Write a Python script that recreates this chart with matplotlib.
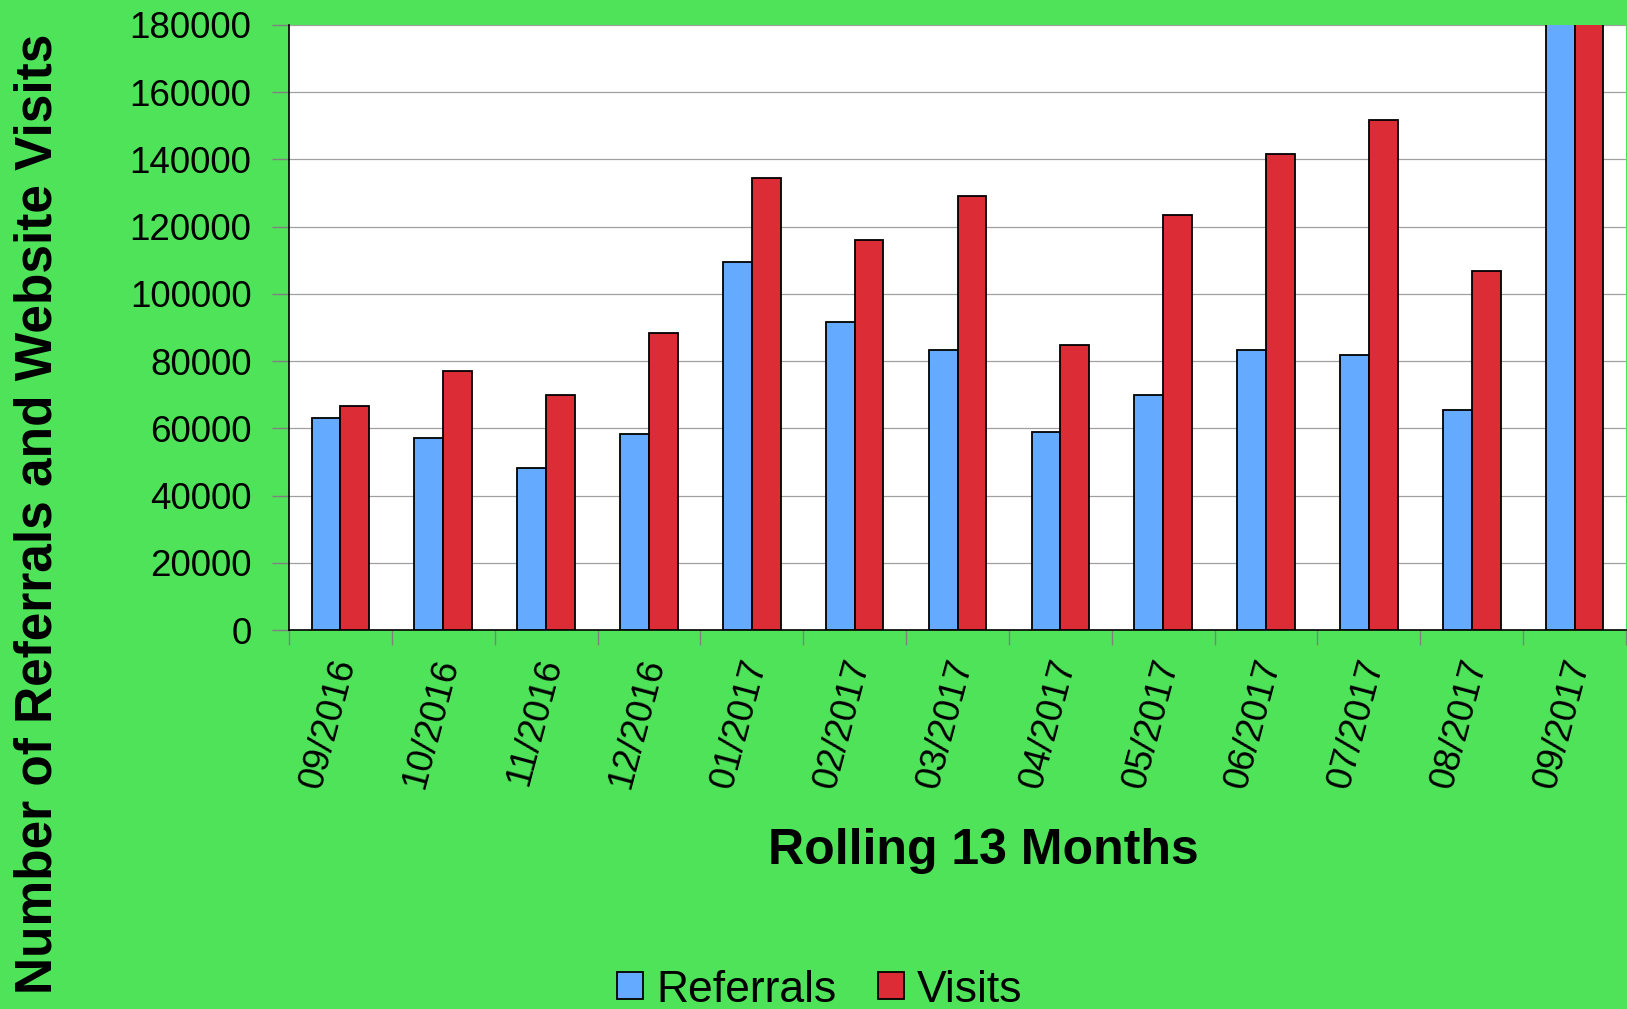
import matplotlib
matplotlib.use("Agg")
import matplotlib.pyplot as plt
import numpy as np

plt.rcParams['font.family'] = ['Liberation Sans', 'DejaVu Sans']

months = ["09/2016", "10/2016", "11/2016", "12/2016", "01/2017", "02/2017", "03/2017",
          "04/2017", "05/2017", "06/2017", "07/2017", "08/2017", "09/2017"]
referrals = [63000, 57100, 48200, 58400, 109600, 91700, 83400, 59000, 69800, 83400, 81800, 65500, 190000]
visits = [66700, 77200, 69800, 88300, 134600, 116100, 129100, 84900, 123500, 141700, 151600, 106800, 200000]
yticks = list(range(0, 180001, 20000))

bg = "#4FE35A"
blue = "#64AAFF"
red = "#DC2D37"

fig = plt.figure(figsize=(16.27, 10.09), dpi=100, facecolor=bg)
ax = fig.add_axes([289/1627, 1 - 630/1009, (1626 - 289)/1627, (630 - 25)/1009])
ax.set_facecolor("white")

x = np.arange(len(months))
w = 0.28
ax.bar(x - w/2, referrals, w, color=blue, edgecolor="black", linewidth=1.3, label="Referrals", zorder=3)
ax.bar(x + w/2, visits, w, color=red, edgecolor="black", linewidth=1.3, label="Visits", zorder=3)

ax.set_xlim(-0.5, len(months) - 0.5)
ax.set_ylim(0, 180000)
ax.set_yticks(yticks)
ax.set_yticklabels([str(v) for v in yticks], fontsize=26.5)
ax.yaxis.grid(True, color="#A0A0A0", linewidth=0.9, zorder=0)
ax.set_axisbelow(True)

ax.set_xticks(x + 0.05)
ax.set_xticklabels(months, fontsize=26.5, rotation=75, ha="right", va="center", rotation_mode="anchor")
ax.set_xticks(np.arange(-0.5, len(months), 1), minor=True)
ax.tick_params(axis="x", which="major", length=0, pad=21)
ax.tick_params(axis="x", which="minor", length=11, color="#808080", width=1)
ax.tick_params(axis="y", length=12, color="#808080", width=1, pad=15)

for s in ["top", "right"]:
    ax.spines[s].set_visible(False)
ax.spines["left"].set_color("black")
ax.spines["bottom"].set_color("black")
ax.spines["left"].set_linewidth(1.2)
ax.spines["bottom"].set_linewidth(1.2)

fig.text(38/1627, 1 - 514/1009, "Number of Referrals and Website Visits", rotation=90,
         fontsize=37, fontweight="bold", ha="center", va="center")
fig.text(983/1627, 1 - 851/1009, "Rolling 13 Months", fontsize=36, fontweight="bold",
         ha="center", va="center")

fig.legend(loc="center", bbox_to_anchor=(820/1627, 1 - 990/1009), ncol=2, frameon=False,
           fontsize=32, handlelength=0.57, handleheight=0.57, handletextpad=0.3,
           columnspacing=0.95, borderpad=0)

fig.savefig("out.png", dpi=100, facecolor=bg)
